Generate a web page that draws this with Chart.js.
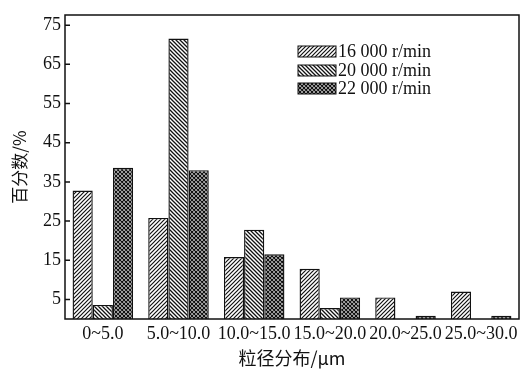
<!DOCTYPE html>
<html>
<head>
<meta charset="utf-8">
<script src="https://cdn.jsdelivr.net/npm/chart.js@4"></script>
<style>
  html, body { margin: 0; padding: 0; background: #fff; }
  #wrap { width: 522px; height: 369px; }
</style>
</head>
<body>
<div id="wrap"><canvas id="chart" width="522" height="369"></canvas></div>
<script>
const categories = ['0~5.0', '5.0~10.0', '10.0~15.0', '15.0~20.0', '20.0~25.0', '25.0~30.0'];
const seriesLabels = ['16 000 r/min', '20 000 r/min', '22 000 r/min'];
const rpm16000 = [32.8, 25.8, 15.8, 12.8, 5.5, 7.0];
const rpm20000 = [3.6, 71.6, 22.8, 2.8, 0, 0];
const rpm22000 = [38.6, 38.0, 16.5, 5.5, 0.8, 0.8];
const yTicks = [5, 15, 25, 35, 45, 55, 65, 75];

// hatch fills drawn on a small tile
function hatch(kind, lw){
    let s = 4;
    let c = document.createElement('canvas');
    c.width = s; c.height = s;
    let g = c.getContext('2d');
    g.fillStyle = '#fff';
    g.fillRect(0, 0, s, s);
    g.strokeStyle = '#111';
    g.lineWidth = lw;
    g.beginPath();
    if(kind == 'fwd' || kind == 'cross'){
        g.moveTo(0, s); g.lineTo(s, 0);
        g.moveTo(-1, 1); g.lineTo(1, -1);
        g.moveTo(s - 1, s + 1); g.lineTo(s + 1, s - 1);
    }
    if(kind == 'back' || kind == 'cross'){
        g.moveTo(0, 0); g.lineTo(s, s);
        g.moveTo(-1, s - 1); g.lineTo(1, s + 1);
        g.moveTo(s - 1, -1); g.lineTo(s + 1, 1);
    }
    g.stroke();
    return document.getElementById('chart').getContext('2d').createPattern(c, 'repeat');
}

const fills = [hatch('fwd', 1.2), hatch('back', 1.3), hatch('cross', 1.3)];

const frame = {
    id: 'frame',
    afterDraw(chart){
        let ctx = chart.ctx;
        let a = chart.chartArea;
        let y = chart.scales.y;
        ctx.save();
        ctx.strokeStyle = '#111';
        ctx.lineWidth = 1.5;
        ctx.strokeRect(a.left, a.top, a.right - a.left, a.bottom - a.top);
        // inward tick marks
        ctx.beginPath();
        yTicks.forEach(v => {
            let p = y.getPixelForValue(v);
            ctx.moveTo(a.left, p);
            ctx.lineTo(a.left + 5, p);
        });
        ctx.stroke();
        // legend inside the plot
        ctx.font = '18px "Liberation Serif"';
        ctx.textBaseline = 'middle';
        let rows = [51, 70, 88];
        chart.data.datasets.forEach((d, i) => {
            ctx.fillStyle = d.backgroundColor;
            ctx.fillRect(298, rows[i] - 5, 38, 11);
            ctx.lineWidth = 1;
            ctx.strokeRect(298, rows[i] - 5, 38, 11);
            ctx.fillStyle = '#111';
            ctx.fillText(d.label, 338, rows[i] + 1);
        });
        ctx.restore();
    }
};

const data = [rpm16000, rpm20000, rpm22000];

new Chart(document.getElementById('chart'), {
    type: 'bar',
    data: {
        labels: categories,
        datasets: data.map((arr, i) => ({
            label: seriesLabels[i],
            data: arr,
            backgroundColor: fills[i],
            borderColor: '#111',
            borderWidth: 1.4,
            categoryPercentage: 0.8,
            barPercentage: 1.0
        }))
    },
    options: {
        responsive: false,
        animation: false,
        layout: { padding: { left: 0, right: 3, top: 15, bottom: 0 } },
        plugins: {
            legend: { display: false },
            tooltip: { enabled: false }
        },
        scales: {
            x: {
                grid: { display: false, drawTicks: false },
                border: { display: false },
                ticks: {
                    color: '#111',
                    font: { family: 'Liberation Serif', size: 18 },
                    padding: 4,
                    autoSkip: false,
                    maxRotation: 0
                },
                title: {
                    display: true,
                    text: '粒径分布/μm',
                    color: '#111',
                    font: { family: 'Noto Sans CJK SC', size: 18 },
                    padding: { top: 0, bottom: 0 }
                },
                afterFit(scale){ scale.height = 50; }
            },
            y: {
                min: 0,
                max: 77.6,
                grid: { display: false, drawTicks: false },
                border: { display: false },
                afterBuildTicks(scale){ scale.ticks = yTicks.map(v => ({ value: v })); },
                ticks: {
                    color: '#111',
                    font: { family: 'Liberation Serif', size: 18 },
                    padding: 4
                },
                title: {
                    display: true,
                    text: '百分数/%',
                    color: '#111',
                    font: { family: 'Noto Sans CJK SC', size: 17 },
                    padding: { top: 9, bottom: 0 }
                },
                afterFit(scale){ scale.width = 65; }
            }
        }
    },
    plugins: [frame]
});
</script>
</body>
</html>
